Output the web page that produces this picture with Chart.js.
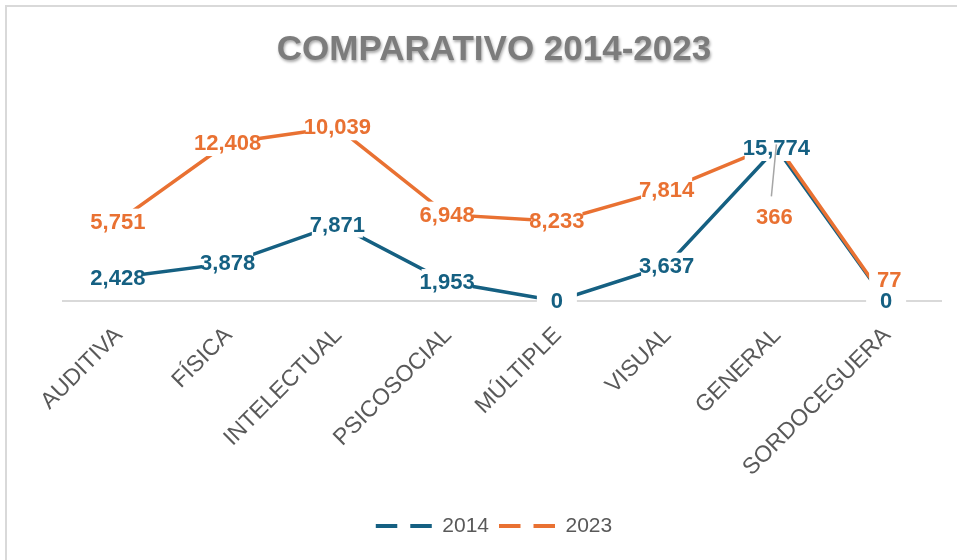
<!DOCTYPE html>
<html><head><meta charset="utf-8">
<script src="https://cdn.jsdelivr.net/npm/chart.js@4.4.0/dist/chart.umd.min.js"></script>
<style>
html,body{margin:0;padding:0;background:#fff;}
#wrap{position:relative;width:957px;height:560px;overflow:hidden;background:#fff;}
#frame{position:absolute;left:5px;top:5px;width:1200px;height:800px;border-left:2px solid #d9d9d9;border-top:2px solid #d9d9d9;}
canvas{position:absolute;left:0;top:0;}
</style></head><body>
<div id="wrap"><div id="frame"></div><canvas id="c" width="957" height="560"></canvas></div>
<script>
const categories = ['AUDITIVA','FÍSICA','INTELECTUAL','PSICOSOCIAL','MÚLTIPLE','VISUAL','GENERAL','SORDOCEGUERA'];
const seriesNames = ['2014','2023'];
const values2014 = [2428,3878,7871,1953,0,3637,15774,0];
const values2023 = [5751,12408,10039,6948,8233,7814,366,77];
const titleText = 'COMPARATIVO 2014-2023';
const yMin = 0;
const yMax = 20000;

const FONT = '"Liberation Sans", Arial, sans-serif';
const BLUE = '#156082';
const ORANGE = '#E97132';

function fmt(v){ return String(v).replace(/\B(?=(\d{3})+(?!\d))/g, ','); }

const cv = document.getElementById('c');
const c2 = cv.getContext('2d');
const titleGrad = c2.createLinearGradient(0, 36, 0, 64);
titleGrad.addColorStop(0, '#7c7c7c');
titleGrad.addColorStop(1, '#3c3c3c');

const drawOrderPlugin = {
  id: 'drawOrder',
  beforeDatasetDraw(chart, args) { if (args.index === 1 && !chart.$late) return false; },
  afterDatasetsDraw(chart) {
    chart.$late = true;
    chart.getDatasetMeta(1).controller.draw();
    chart.$late = false;
  }
};

const titleShadowPlugin = {
  id: 'titleShadow',
  beforeDraw(chart) {
    const tb = chart.titleBlock;
    if (tb && !tb.$wrapped) {
      const orig = tb.draw.bind(tb);
      tb.draw = function(a) {
        const c = chart.ctx; c.save();
        c.shadowColor = 'rgba(0,0,0,0.35)'; c.shadowBlur = 3; c.shadowOffsetX = 1; c.shadowOffsetY = 2;
        orig(a); c.restore();
      };
      tb.$wrapped = true;
    }
  }
};

const valueLabelPlugin = {
  id: 'valueLabels',
  afterDatasetsDraw(chart, args, opts) {
    const ctx = chart.ctx;
    ctx.save();
    ctx.font = 'bold 22px ' + FONT;
    ctx.textAlign = 'center';
    ctx.textBaseline = 'middle';
    const items = [];
    chart.data.datasets.forEach((ds, di) => {
      const meta = chart.getDatasetMeta(di);
      meta.data.forEach((pt, i) => {
        const off = (opts.offsets[di] && opts.offsets[di][i]) || [0, 0];
        const leader = !!(opts.leaders[di] && opts.leaders[di][i]);
        items.push({x: pt.x + off[0], y: pt.y + off[1], px: pt.x, py: pt.y, text: fmt(ds.data[i]), color: ds.borderColor, leader});
      });
    });
    ctx.fillStyle = '#ffffff';
    items.forEach(it => {
      const w = Math.max(ctx.measureText(it.text).width - 4, opts.minWidth);
      ctx.fillRect(it.x - w / 2, it.y - 13, w, 26);
    });
    items.forEach(it => {
      ctx.fillStyle = it.color;
      ctx.fillText(it.text, it.x, it.y + 1);
    });
    items.forEach(it => {
      if (!it.leader) return;
      ctx.strokeStyle = '#a6a6a6';
      ctx.lineWidth = 1.5;
      ctx.beginPath();
      ctx.moveTo(it.x - 3, it.y - 20);
      ctx.lineTo(it.px, it.py);
      ctx.stroke();
    });
    ctx.restore();
  }
};

new Chart(cv, {
  type: 'line',
  data: {
    labels: categories,
    datasets: [
      {label: seriesNames[0], data: values2014, borderColor: BLUE, backgroundColor: BLUE, borderWidth: 3.5, pointRadius: 0, fill: false, tension: 0},
      {label: seriesNames[1], data: values2023, borderColor: ORANGE, backgroundColor: ORANGE, borderWidth: 3.5, pointRadius: 0, fill: false, tension: 0}
    ]
  },
  options: {
    responsive: false,
    animation: false,
    devicePixelRatio: 1,
    layout: {padding: {left: 47, right: 16, top: 0, bottom: 13.5}},
    scales: {
      x: {
        offset: true,
        grid: {display: false, drawTicks: false},
        border: {display: true, color: '#d9d9d9', width: 2},
        ticks: {autoSkip: false, minRotation: 45, maxRotation: 45, color: '#595959', font: {size: 23, family: FONT}, padding: 21, labelOffset: 1},
        afterFit(s) { s.height = 204.5; s.paddingLeft = 63; s.paddingRight = 0; }
      },
      y: {display: false, stacked: true, min: yMin, max: yMax}
    },
    plugins: {
      title: {
        display: true, text: titleText, color: titleGrad,
        font: {size: 35, weight: 'bold', family: FONT, lineHeight: 1.2},
        padding: {top: 29, bottom: 36}
      },
      legend: {
        position: 'bottom',
        labels: {
          usePointStyle: true, pointStyleWidth: 56, boxHeight: 10, padding: 10,
          color: '#595959', font: {size: 21, family: FONT},
          generateLabels(chart) {
            return chart.data.datasets.map((ds, i) => ({
              text: ds.label, fillStyle: 'rgba(0,0,0,0)', strokeStyle: ds.borderColor,
              lineWidth: 4, lineDash: [21.5, 13], lineCap: 'butt', pointStyle: 'line',
              fontColor: '#595959', datasetIndex: i, hidden: false
            }));
          }
        }
      },
      tooltip: {enabled: false},
      valueLabels: {
        minWidth: 40,
        offsets: {1: {6: [-2, 72], 7: [3, -20]}},
        leaders: {1: {6: true}}
      }
    }
  },
  plugins: [drawOrderPlugin, titleShadowPlugin, valueLabelPlugin]
});
</script>
</body></html>
